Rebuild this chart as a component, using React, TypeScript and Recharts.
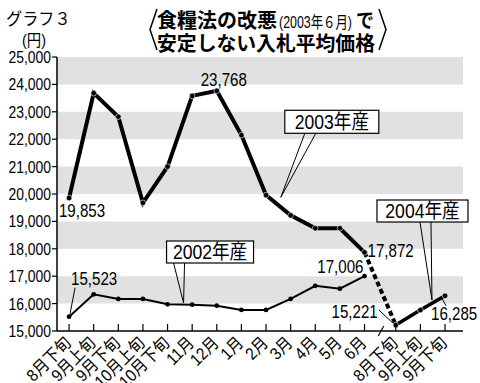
import React from 'react';
import { LineChart, Line, XAxis, YAxis, ReferenceArea, ReferenceDot, ReferenceLine, LabelList } from 'recharts';

// ---- data ----
const xLabels = ['8月下旬', '9月上旬', '9月下旬', '10月上旬', '10月下旬', '11月', '12月', '1月', '2月', '3月', '4月', '5月', '6月', '8月下旬', '9月上旬', '9月下旬'];
const xPos = [0, 1, 2, 3, 4, 5, 6, 7, 8, 9, 10, 11, 12, 13.27, 14.27, 15.27];
const v2002 = [15523, 16340, 16170, 16170, 15975, 15960, 15925, 15770, 15770, 16170, 16650, 16545, 17006];
const v2003 = [19853, 23680, 22820, 19680, 21000, 23580, 23768, 22150, 19960, 19220, 18750, 18750, 17872];
const v2004 = [15221, 15766, 16285];
const yTicks = [15000, 16000, 17000, 18000, 19000, 20000, 21000, 22000, 23000, 24000, 25000];
const bands = [[24000, 25000], [22000, 23000], [20000, 21000], [18000, 19000], [16000, 17000]];
const seriesNames = ['2002年産', '2003年産', '2004年産'];

const d2002 = v2002.map((v, i) => ({ x: xPos[i], v }));
const d2003 = v2003.map((v, i) => ({ x: xPos[i], v }));
const d2004 = v2004.map((v, i) => ({ x: xPos[13 + i], v }));
const dLink = [{ x: xPos[12], v: v2003[12] }, { x: xPos[13], v: v2004[0] }];

const X_MIN = -0.49;
const X_MAX = 16;

const FONT_NUM = "'Liberation Sans','Noto Sans CJK JP',sans-serif";
const FONT_JP = "'Noto Sans CJK JP',sans-serif";

const fmt = (v: number) => v.toLocaleString('en-US');

function NText({ x, y, anchor = 'start', size = 16, sx = 0.82, rotate = 0, weight, family = FONT_NUM, children }: any) {
  return (
    <text
      transform={`translate(${x} ${y}) rotate(${rotate}) scale(${sx} 1)`}
      x={0}
      y={0}
      textAnchor={anchor}
      fontSize={size}
      fontWeight={weight}
      fontFamily={family}
      fill="#000"
    >
      {children}
    </text>
  );
}

function XTick(props: any) {
  const { x, y, index } = props;
  const label = xLabels[index] ?? '';
  return (
    <g>
      <line x1={x} y1={y} x2={x} y2={y - 7} stroke="#000" strokeWidth={1.2} />
      <NText x={x + 3} y={y + 13} anchor="end" size={17} sx={0.9} rotate={-45}>{label}</NText>
    </g>
  );
}

function YTick(props: any) {
  const { x, y, payload } = props;
  return <NText x={x} y={y + 6} anchor="end" size={17} sx={0.82}>{fmt(payload.value)}</NText>;
}

type LabSpec = { dx: number; dy: number; anchor: 'start' | 'middle' | 'end'; lead?: [number, number, number, number] };

const lab2003: Record<number, LabSpec> = {
  0: { dx: 13, dy: 19, anchor: 'middle' },
  6: { dx: 7, dy: -5, anchor: 'middle' },
  12: { dx: 3, dy: 5, anchor: 'start' },
};
const lab2002: Record<number, LabSpec> = {
  0: { dx: 2, dy: -32, anchor: 'start', lead: [1, -3, 6, -29] },
  12: { dx: -1, dy: -3, anchor: 'end' },
};
const lab2004: Record<number, LabSpec> = {
  0: { dx: -18, dy: -7, anchor: 'end', lead: [-3, -2, -17, -15] },
  2: { dx: -14, dy: 24, anchor: 'start', lead: [-4, 1, 1, 10] },
};

const makeLabel = (spec: Record<number, LabSpec>) => (p: any) => {
  const s = spec[p.index];
  if (!s) return null;
  const { x, y, value } = p;
  return (
    <g>
      {s.lead && (
        <line x1={x + s.lead[0]} y1={y + s.lead[1]} x2={x + s.lead[2]} y2={y + s.lead[3]} stroke="#000" strokeWidth={1} />
      )}
      <NText x={x + s.dx} y={y + s.dy} anchor={s.anchor} size={18} sx={0.84}>{fmt(value)}</NText>
    </g>
  );
};

type Anno = { name: string; bx: number; by: number; bw: number; bh: number; l1: number; l2: number };

const annoBox = (a: Anno) => (p: any) => {
  const vb = p.viewBox || {};
  const cx = vb.x + (vb.width || 0) / 2;
  const cy = vb.y + (vb.height || 0) / 2;
  const bx = cx + a.bx;
  const by = cy + a.by;
  return (
    <g>
      <line x1={bx + a.l1} y1={by + a.bh} x2={cx} y2={cy} stroke="#000" strokeWidth={1} />
      <line x1={bx + a.l2} y1={by + a.bh} x2={cx} y2={cy} stroke="#000" strokeWidth={1} />
      <rect x={bx} y={by} width={a.bw} height={a.bh} fill="#fff" stroke="#000" strokeWidth={1.2} />
      <NText x={bx + a.bw / 2} y={by + a.bh - 4} anchor="middle" size={20} sx={0.88}>{a.name}</NText>
    </g>
  );
};

const dotBig = (p: any) => {
  if (p.cx == null || p.cy == null) return <g key={p.key} />;
  return <circle key={p.key} cx={p.cx} cy={p.cy} r={2.8} fill="#000" stroke="#fff" strokeWidth={0.6} />;
};
const dotSmall = (p: any) => {
  if (p.cx == null || p.cy == null) return <g key={p.key} />;
  return <circle key={p.key} cx={p.cx} cy={p.cy} r={2.4} fill="#000" />;
};

export default function App() {
  return (
    <div style={{ position: 'absolute', left: 0, top: 0, width: 480, height: 383, background: '#fff' }}>
      <LineChart width={480} height={383} margin={{ top: 57, right: 17, left: 0, bottom: 0 }}>
        {bands.map(([a, b]) => (
          <ReferenceArea key={a} x1={X_MIN} x2={X_MAX} y1={a} y2={b} fill="#e1e1e1" fillOpacity={1} stroke="none" ifOverflow="visible" />
        ))}
        <XAxis
          type="number"
          dataKey="x"
          domain={[X_MIN, X_MAX]}
          ticks={xPos}
          interval={0}
          allowDataOverflow
          height={52}
          tickSize={0}
          tickMargin={0}
          tickLine={false}
          axisLine={{ stroke: '#000', strokeWidth: 1.5 }}
          tick={<XTick />}
        />
        <YAxis
          type="number"
          domain={[15000, 25000]}
          ticks={yTicks}
          interval={0}
          width={57}
          tickSize={5}
          tickMargin={1}
          axisLine={{ stroke: '#000', strokeWidth: 1.5 }}
          tickLine={{ stroke: '#000', strokeWidth: 1.2 }}
          tick={<YTick />}
        />
        <ReferenceLine
          segment={[{ x: 12.56, y: 14820 }, { x: 12.78, y: 15180 }]}
          stroke="#000"
          strokeWidth={1.2}
          ifOverflow="visible"
        />
        <Line data={d2002} dataKey="v" type="linear" stroke="#000" strokeWidth={2} dot={dotSmall} isAnimationActive={false}>
          <LabelList dataKey="v" content={makeLabel(lab2002)} />
        </Line>
        <Line data={dLink} dataKey="v" type="linear" stroke="#000" strokeWidth={4} strokeDasharray="5 3" dot={false} isAnimationActive={false} />
        <Line data={d2003} dataKey="v" type="linear" stroke="#000" strokeWidth={4} dot={dotBig} isAnimationActive={false}>
          <LabelList dataKey="v" content={makeLabel(lab2003)} />
        </Line>
        <Line data={d2004} dataKey="v" type="linear" stroke="#000" strokeWidth={3.6} dot={dotBig} isAnimationActive={false}>
          <LabelList dataKey="v" content={makeLabel(lab2004)} />
        </Line>
        <ReferenceDot x={8.6} y={19880} r={0} fill="none" stroke="none" ifOverflow="visible"
          label={annoBox({ name: seriesNames[1], bx: 4, by: -87, bw: 94, bh: 23, l1: 20, l2: 31 })} />
        <ReferenceDot x={4.65} y={16022} r={0} fill="none" stroke="none" ifOverflow="visible"
          label={annoBox({ name: seriesNames[0], bx: -17, by: -62, bw: 87, bh: 22, l1: 7, l2: 18 })} />
        <ReferenceDot x={14.74} y={16131} r={0} fill="none" stroke="none" ifOverflow="visible"
          label={annoBox({ name: seriesNames[2], bx: -55, by: -100, bw: 91, bh: 22, l1: 43, l2: 54 })} />
      </LineChart>
      <svg width={480} height={383} style={{ position: 'absolute', left: 0, top: 0, pointerEvents: 'none' }}>
        <NText x={6} y={25} size={17} sx={0.95}>グラフ３</NText>
        <NText x={22} y={46} size={16} sx={0.9}>(円)</NText>
        <polyline points="157,9 150,29.5 157,50" fill="none" stroke="#000" strokeWidth={1.5} />
        <polyline points="379,9 386,29.5 379,50" fill="none" stroke="#000" strokeWidth={1.5} />
        <text x={157} y={28} fontSize={20} fontWeight="bold" fontFamily={FONT_JP} fill="#000" textLength={120} lengthAdjust="spacingAndGlyphs">食糧法の改悪</text>
        <text x={279} y={28} fontSize={16} fontFamily={FONT_NUM} fill="#000" textLength={73} lengthAdjust="spacingAndGlyphs">(2003年６月)</text>
        <text x={356} y={28} fontSize={20} fontWeight="bold" fontFamily={FONT_JP} fill="#000" textLength={18} lengthAdjust="spacingAndGlyphs">で</text>
        <text x={157} y={51} fontSize={20} fontWeight="bold" fontFamily={FONT_JP} fill="#000" textLength={218} lengthAdjust="spacingAndGlyphs">
          安定しない入札平均価格
        </text>
      </svg>
    </div>
  );
}
